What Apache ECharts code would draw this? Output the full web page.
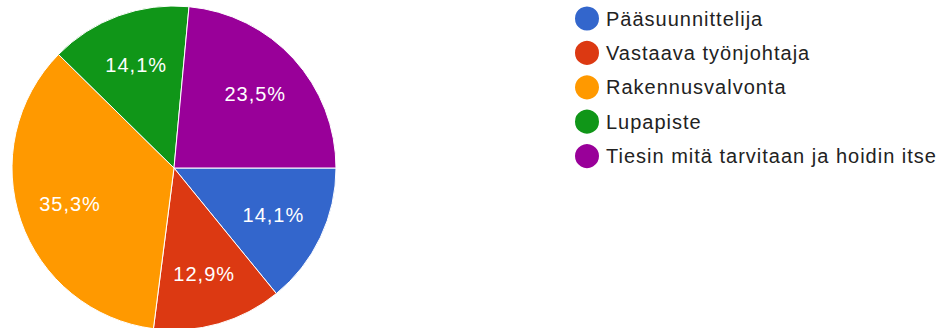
<!DOCTYPE html>
<html>
<head>
<meta charset="utf-8">
<script src="https://cdn.jsdelivr.net/npm/echarts@6/dist/echarts.min.js"></script>
<style>
  html, body { margin: 0; padding: 0; background: #ffffff; }
  #chart { width: 942px; height: 328px; }
  /* slightly open tracking for all chart text */
  #chart text { letter-spacing: 1px; }
</style>
</head>
<body>
<div id="chart"></div>
<script>
// Answer categories and their shares (%)
const categories = [
  'Pääsuunnittelija',
  'Vastaava työnjohtaja',
  'Rakennusvalvonta',
  'Lupapiste',
  'Tiesin mitä tarvitaan ja hoidin itse'
];
const shares = [14.1, 12.9, 35.3, 14.1, 23.5];
const colors = ['#3366cc', '#dc3912', '#ff9900', '#109618', '#990099'];

const FONT = "'Liberation Sans', Arial, sans-serif";

const sliceData = categories.map((name, i) => ({ name: name, value: shares[i] }));
const fmt = p => String(p.value.toFixed(1)).replace('.', ',') + '%';

const chart = echarts.init(document.getElementById('chart'), null, { renderer: 'svg' });
chart.setOption({
  backgroundColor: '#ffffff',
  color: colors,
  textStyle: { fontFamily: FONT },
  legend: {
    orient: 'vertical',
    left: 573,
    top: 4.5,
    padding: 0,
    icon: 'circle',
    itemWidth: 26,
    itemHeight: 26,
    itemGap: 6.4,
    selectedMode: false,
    data: categories,
    textStyle: {
      fontFamily: FONT,
      fontSize: 20,
      lineHeight: 20,
      color: '#222222',
      padding: [0, 0, 0, 1]
    }
  },
  series: [
    {
      // coloured slices
      type: 'pie',
      center: [174, 168],
      radius: [0, 162],
      startAngle: 0,
      clockwise: true,
      avoidLabelOverlap: false,
      silent: true,
      itemStyle: { borderColor: '#ffffff', borderWidth: 1 },
      label: { show: false },
      labelLine: { show: false },
      data: sliceData
    },
    {
      // percentage labels, placed part-way out along each slice
      type: 'pie',
      center: [174, 168],
      radius: [52, 162],
      startAngle: 0,
      clockwise: true,
      avoidLabelOverlap: false,
      silent: true,
      legendHoverLink: false,
      itemStyle: { color: 'rgba(0,0,0,0)', borderWidth: 0 },
      label: {
        show: true,
        position: 'inside',
        color: '#ffffff',
        fontFamily: FONT,
        fontSize: 20,
        formatter: fmt
      },
      labelLine: { show: false },
      data: sliceData
    }
  ]
});
</script>
</body>
</html>
